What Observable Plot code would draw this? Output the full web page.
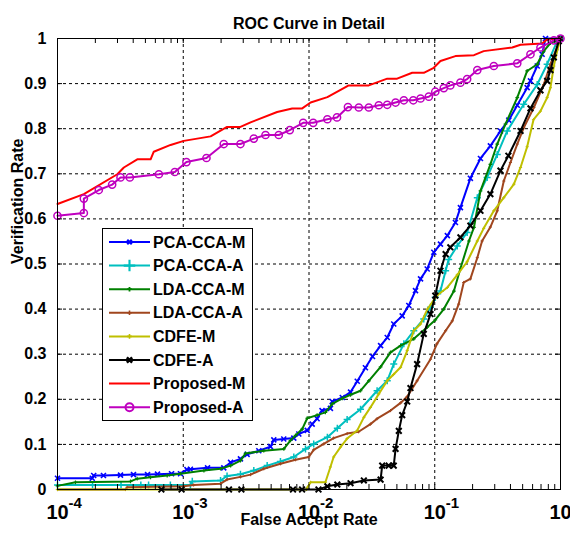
<!DOCTYPE html>
<html>
<head>
<meta charset="utf-8">
<script src="https://cdn.jsdelivr.net/npm/d3@7"></script>
<script src="https://cdn.jsdelivr.net/npm/@observablehq/plot@0.6"></script>
<style>
  body { margin: 0; background: white; }
  #chart svg { display: block; }
</style>
</head>
<body>
<div id="chart"></div>
<script>
// ---- Data (False Accept Rate, Verification Rate) ----
const farTicks = [1e-4, 1e-3, 1e-2, 1e-1, 1];
const vrTicks = [0, 0.1, 0.2, 0.3, 0.4, 0.5, 0.6, 0.7, 0.8, 0.9, 1];
const seriesNames = ["PCA-CCA-M", "PCA-CCA-A", "LDA-CCA-M", "LDA-CCA-A", "CDFE-M", "CDFE-A", "Proposed-M", "Proposed-A"];
const seriesColors = ["#0000FF", "#00BFBF", "#008000", "#A0461E", "#BFBF00", "#000000", "#FF0000", "#BF00BF"];

const pcaCcaM = [[1e-4,0.025],[1.89e-4,0.025],[1.94e-4,0.031],[2.32e-4,0.031],[3.17e-4,0.032],[4.02e-4,0.033],[5.2e-4,0.033],[6.24e-4,0.034],[8.07e-4,0.035],[9.51e-4,0.035],[1.07e-3,0.044],[1.14e-3,0.045],[1.56e-3,0.048],[2.10e-3,0.048],[2.38e-3,0.060],[2.85e-3,0.068],[3.22e-3,0.078],[3.99e-3,0.086],[4.94e-3,0.095],[5.25e-3,0.110],[6.3e-3,0.112],[7.57e-3,0.114],[8.30e-3,0.123],[9.68e-3,0.131],[1.06e-2,0.145],[1.16e-2,0.157],[1.27e-2,0.175],[1.48e-2,0.180],[1.53e-2,0.195],[1.84e-2,0.204],[2.14e-2,0.216],[2.42e-2,0.240],[2.81e-2,0.270],[3.20e-2,0.295],[3.71e-2,0.319],[4.19e-2,0.337],[4.72e-2,0.367],[5.51e-2,0.385],[6.22e-2,0.408],[7.03e-2,0.441],[7.71e-2,0.467],[8.71e-2,0.489],[9.83e-2,0.526],[0.111,0.544],[0.126,0.563],[0.146,0.592],[0.160,0.625],[0.192,0.690],[0.231,0.734],[0.277,0.762],[0.333,0.795],[0.388,0.819],[0.453,0.852],[0.543,0.891],[0.577,0.906],[0.653,0.939],[0.714,0.965],[0.760,1.0],[1,1.0]];

const pcaCcaA = [[1e-4,0.010],[1.9e-4,0.010],[3.2e-4,0.010],[4.6e-4,0.010],[5.3e-4,0.010],[7.9e-4,0.010],[1.14e-3,0.010],[1.18e-3,0.018],[1.98e-3,0.020],[2.23e-3,0.030],[2.85e-3,0.034],[3.64e-3,0.042],[4.65e-3,0.053],[5.93e-3,0.062],[7.57e-3,0.072],[9.38e-3,0.090],[1.09e-2,0.101],[1.40e-2,0.116],[1.68e-2,0.136],[2.01e-2,0.155],[2.57e-2,0.178],[3.48e-2,0.219],[4.19e-2,0.241],[4.72e-2,0.278],[5.68e-2,0.323],[6.81e-2,0.352],[8.18e-2,0.378],[9.25e-2,0.404],[0.101,0.426],[0.111,0.440],[0.122,0.485],[0.129,0.510],[0.151,0.540],[0.181,0.570],[0.218,0.647],[0.261,0.692],[0.314,0.743],[0.377,0.795],[0.510,0.854],[0.653,0.898],[0.783,0.943],[0.942,0.994],[1,1]];

const ldaCcaM = [[1e-4,0.008],[1.39e-4,0.016],[3.81e-4,0.018],[4.30e-4,0.024],[5.49e-4,0.027],[7.45e-4,0.031],[9.51e-4,0.035],[1.46e-3,0.042],[1.98e-3,0.046],[2.38e-3,0.053],[2.85e-3,0.064],[3.13e-3,0.080],[4.37e-3,0.086],[6.31e-3,0.090],[7.13e-3,0.109],[7.82e-3,0.120],[8.83e-3,0.134],[9.68e-3,0.158],[1.16e-2,0.165],[1.35e-2,0.171],[1.53e-2,0.190],[1.84e-2,0.202],[2.14e-2,0.210],[2.57e-2,0.219],[2.99e-2,0.241],[3.71e-2,0.272],[4.45e-2,0.304],[5.35e-2,0.319],[6.81e-2,0.334],[8.71e-2,0.360],[0.101,0.376],[0.118,0.400],[0.142,0.440],[0.160,0.490],[0.187,0.551],[0.205,0.581],[0.231,0.662],[0.277,0.721],[0.314,0.766],[0.365,0.810],[0.453,0.869],[0.543,0.928],[0.653,0.943],[0.736,0.972],[0.832,0.990],[1,1]];

const ldaCcaA = [[1e-4,0],[3.47e-4,0],[3.58e-4,0.005],[1.01e-3,0.007],[1.21e-3,0.010],[1.98e-3,0.013],[2.23e-3,0.022],[2.85e-3,0.028],[3.43e-3,0.033],[4.37e-3,0.046],[5.93e-3,0.057],[7.82e-3,0.066],[9.95e-3,0.072],[1.09e-2,0.088],[1.31e-2,0.101],[1.57e-2,0.114],[2.01e-2,0.124],[2.48e-2,0.128],[3.08e-2,0.145],[3.48e-2,0.157],[4.45e-2,0.175],[5.35e-2,0.192],[6.04e-2,0.206],[7.24e-2,0.241],[9.25e-2,0.289],[0.104,0.323],[0.122,0.352],[0.138,0.374],[0.155,0.411],[0.170,0.459],[0.192,0.467],[0.218,0.514],[0.238,0.551],[0.277,0.582],[0.314,0.618],[0.354,0.684],[0.400,0.725],[0.453,0.766],[0.510,0.802],[0.614,0.847],[0.736,0.898],[0.832,0.943],[0.942,0.982],[1,1]];

const cdfeM = [[1e-4,0],[9.55e-3,0],[9.73e-3,0.005],[1.03e-2,0.016],[1.35e-2,0.016],[1.48e-2,0.050],[1.57e-2,0.072],[1.78e-2,0.094],[2.01e-2,0.113],[2.42e-2,0.131],[2.73e-2,0.160],[3.08e-2,0.182],[3.59e-2,0.212],[4.19e-2,0.241],[4.70e-2,0.255],[5.35e-2,0.271],[6.04e-2,0.308],[6.81e-2,0.352],[7.71e-2,0.367],[8.75e-2,0.400],[0.104,0.430],[0.126,0.448],[0.151,0.476],[0.181,0.505],[0.218,0.551],[0.245,0.579],[0.295,0.618],[0.354,0.647],[0.426,0.677],[0.481,0.714],[0.543,0.760],[0.610,0.820],[0.693,0.839],[0.783,0.869],[0.832,0.891],[0.885,0.939],[0.946,0.975],[1,1]];

const cdfeA = [[6.7e-4,0],[9.7e-4,0],[2.31e-3,0],[2.9e-3,0],[7.46e-3,0],[8.81e-3,0],[1.19e-2,0],[1.40e-2,0.007],[1.68e-2,0.011],[2.14e-2,0.014],[2.73e-2,0.020],[3.71e-2,0.022],[3.82e-2,0.053],[4.3e-2,0.053],[4.72e-2,0.053],[4.88e-2,0.090],[5.18e-2,0.130],[5.51e-2,0.165],[6.04e-2,0.195],[6.41e-2,0.225],[7.24e-2,0.278],[8.18e-2,0.345],[9.25e-2,0.389],[0.101,0.430],[0.111,0.485],[0.122,0.522],[0.133,0.537],[0.160,0.559],[0.192,0.585],[0.231,0.618],[0.277,0.655],[0.333,0.707],[0.385,0.740],[0.481,0.795],[0.577,0.845],[0.693,0.885],[0.783,0.906],[0.832,0.930],[0.885,0.958],[0.970,0.994],[1,1]];

const proposedM = [[1e-4,0.633],[1.62e-4,0.655],[2.99e-4,0.699],[3.37e-4,0.714],[4.31e-4,0.732],[5.5e-4,0.732],[5.83e-4,0.749],[7.93e-4,0.764],[1.01e-3,0.773],[1.65e-3,0.783],[2.23e-3,0.804],[2.85e-3,0.804],[3.43e-3,0.814],[5.58e-3,0.837],[7.35e-3,0.845],[8.83e-3,0.845],[1.03e-2,0.858],[1.40e-2,0.870],[2.07e-2,0.896],[2.99e-2,0.896],[4.19e-2,0.911],[5.02e-2,0.911],[6.62e-2,0.924],[8.18e-2,0.924],[9.82e-2,0.935],[0.111,0.950],[0.146,0.961],[0.205,0.963],[0.245,0.972],[0.413,0.980],[0.481,0.986],[0.714,0.989],[0.783,0.998],[1,1]];

const proposedA = [[1e-4,0.607],[1.62e-4,0.613],[1.62e-4,0.645],[2.13e-4,0.664],[2.72e-4,0.676],[3.17e-4,0.692],[3.76e-4,0.692],[6.40e-4,0.699],[8.57e-4,0.704],[1.06e-3,0.726],[1.53e-3,0.735],[2.10e-3,0.766],[2.85e-3,0.766],[3.64e-3,0.778],[4.51e-3,0.786],[5.75e-3,0.786],[7.03e-3,0.797],[8.99e-3,0.813],[1.08e-2,0.813],[1.40e-2,0.821],[1.67e-2,0.825],[2.04e-2,0.848],[2.49e-2,0.847],[2.99e-2,0.847],[3.59e-2,0.852],[4.19e-2,0.853],[4.88e-2,0.858],[5.68e-2,0.863],[6.75e-2,0.863],[7.71e-2,0.867],[8.97e-2,0.871],[0.101,0.882],[0.118,0.890],[0.133,0.896],[0.160,0.902],[0.181,0.910],[0.218,0.930],[0.295,0.939],[0.453,0.945],[0.577,0.965],[0.693,0.980],[0.885,0.996],[1,1]];

const allSeries = [pcaCcaM, pcaCcaA, ldaCcaM, ldaCcaA, cdfeM, cdfeA, proposedM, proposedA];
// marker: [symbol, r in plot, strokeWidth, r in legend]
const markerStyles = [["times", 2.4, 1.6, 2.2], ["plus", 2.4, 1.5, 3.8], ["plus", 1.3, 1.2, 1.6], ["plus", 1.1, 1, 1.6], ["plus", 1.1, 1, 1.6], ["times", 2.7, 2, 2.5], null, ["circle", 3.6, 1.5, 4]];

// ---- Layout ----
const W = 570, H = 534, mT = 38, mB = 45, mL = 57, mR = 10;
const pw = W - mL - mR, ph = H - mT - mB;
const tickLen = 5;

const gridX = farTicks.slice(1, -1);
const gridY = vrTicks.slice(1, -1);
const minorX = [];
for (let e = -4; e < 0; e++) for (let m = 2; m <= 9; m++) minorX.push(m * Math.pow(10, e));
const allXTicks = gridX.concat(minorX);

const marks = [
  Plot.gridX(gridX, {stroke: "#000", strokeOpacity: 1, strokeDasharray: "3,3"}),
  Plot.gridY(gridY, {stroke: "#000", strokeOpacity: 1, strokeDasharray: "3,3"})
];
allSeries.forEach((s, i) => {
  marks.push(Plot.line(s, {stroke: seriesColors[i], strokeWidth: 2}));
  const m = markerStyles[i];
  if (m) marks.push(Plot.dot(s, {symbol: m[0], r: m[1], stroke: seriesColors[i], strokeWidth: m[2], fill: "none"}));
});
marks.push(
  Plot.frame({stroke: "#000"}),
  Plot.tickX(allXTicks, {x: d => d, insetTop: ph - tickLen, stroke: "#000"}),
  Plot.tickX(allXTicks, {x: d => d, insetBottom: ph - tickLen, stroke: "#000"}),
  Plot.tickY(gridY, {y: d => d, insetRight: pw - tickLen, stroke: "#000"}),
  Plot.tickY(gridY, {y: d => d, insetLeft: pw - tickLen, stroke: "#000"}),
  Plot.axisY(vrTicks, {tickSize: 0, tickPadding: 11, tickFormat: d => String(d), fontSize: 16, label: null}),
  Plot.axisX(farTicks, {tickSize: 0, tickPadding: 14.8, tickFormat: () => "10", fontSize: 20, label: null}),
  Plot.axisX(farTicks, {tickSize: 0, tickPadding: 7.8, tickFormat: d => String(Math.round(Math.log10(d))), fontSize: 15, textAnchor: "start", dx: 11, label: null}),
  Plot.text(["False Accept Rate"], {frameAnchor: "bottom", dy: 35.5, fontSize: 16, text: d => d}),
  Plot.text(["Verification Rate"], {frameAnchor: "left", dx: -40, rotate: -90, fontSize: 16, text: d => d}),
  Plot.text(["ROC Curve in Detail"], {frameAnchor: "top", dy: -21, fontSize: 16, text: d => d})
);

const plot = Plot.plot({
  width: W, height: H,
  marginTop: mT, marginBottom: mB, marginLeft: mL, marginRight: mR,
  x: {type: "log", domain: [1e-4, 1]},
  y: {domain: [0, 1]},
  style: {fontFamily: "'Liberation Sans', Arial, sans-serif", fontWeight: "bold", fontSize: "16px", background: "white", color: "black", overflow: "hidden"},
  marks
});
document.getElementById("chart").appendChild(plot);

// ---- Legend (inside the axes, as in the original) ----
const svg = d3.select(plot);
const lg = svg.append("g").attr("aria-label", "legend").attr("text-anchor", "start");
const lx = 102, ly = 228, lw = 150, lh = 192;
lg.append("rect").attr("x", lx + 0.5).attr("y", ly + 0.5).attr("width", lw).attr("height", lh)
  .attr("fill", "white").attr("stroke", "black").attr("stroke-width", 1);
const symMap = {times: d3.symbolTimes, plus: d3.symbolPlus, circle: d3.symbolCircle};
seriesNames.forEach((name, i) => {
  const cy = 242 + i * 23.6;
  lg.append("line").attr("x1", 109).attr("x2", 150).attr("y1", cy).attr("y2", cy)
    .attr("stroke", seriesColors[i]).attr("stroke-width", 2);
  const m = markerStyles[i];
  if (m) {
    const r = m[3];
    lg.append("path").attr("d", d3.symbol(symMap[m[0]], Math.PI * r * r)())
      .attr("transform", `translate(129.5,${cy})`)
      .attr("fill", "none").attr("stroke", seriesColors[i]).attr("stroke-width", m[0] === "circle" ? 2 : m[2] + 0.6);
  }
  lg.append("text").attr("x", 153).attr("y", cy + 5.6).attr("fill", "black")
    .attr("text-anchor", "start").attr("font-size", 16).attr("font-weight", "bold").text(name);
});
</script>
</body>
</html>
